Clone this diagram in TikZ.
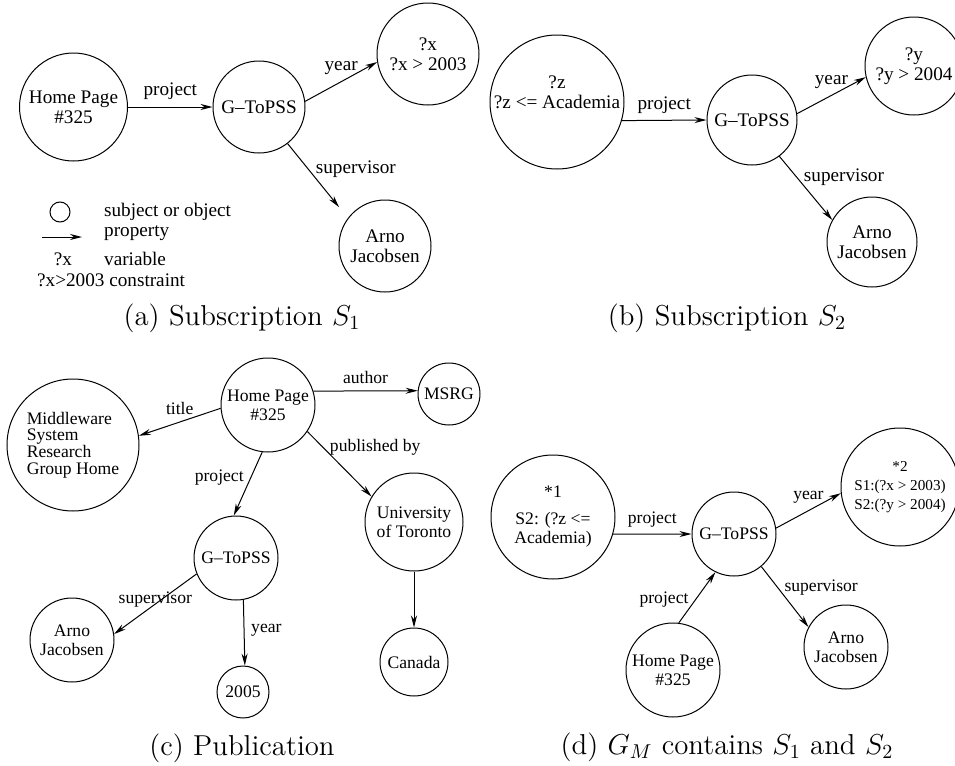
\documentclass[tikz,border=0pt]{standalone}
\usepackage{fontspec}
\newfontfamily\figfont{Liberation Serif}
\usetikzlibrary{arrows.meta}
\tikzset{>={Stealth[length=6pt,width=3pt]}}
\tikzset{
    thing/.style={circle, draw, inner sep=0pt, align=center, minimum size=#1},
    bigtext/.style={font=\figfont\fontsize{9.6}{10}\selectfont},
    smalltext/.style={font=\figfont\fontsize{8.8}{9.5}\selectfont},
    subcap/.style={font=\fontsize{14.4}{17}\selectfont}
}

\begin{document}
\begin{tikzpicture}[x=0.5pt,y=-0.5pt,line width=0.5pt]
    \useasboundingbox (0,0) rectangle (955,766);
    \begin{scope}[bigtext]
        \node[thing=54pt] (hpA) at (73.5,107) {Home Page\\\#325};
        \node[thing=46pt] (gA) at (259,107) {G\textendash ToPSS};
        \node[thing=51pt] (xA) at (428,54) {?x\\?x > 2003};
        \node[thing=46pt] (ajA) at (385,246) {Arno\\Jacobsen};
        \draw[->] (hpA) -- node[above] {project} (gA);
        \draw[->] (gA.7) -- node[above] {year} (xA.189);
        \draw[->,shorten >=7pt] (gA.-52) -- node[pos=0.35,right] {supervisor} (ajA.143);
        \node[thing=10pt] (kobj) at (60,212) {};
        \node[anchor=west] (tobj) at (97,212) {subject or object};
        \coordinate (kp1) at (42,237);
        \coordinate (kp2) at (82,237);
        \draw[->] (kp1) -- (kp2);
        \node[anchor=west] (tprop) at (97,233) {property};
        \node (kvar) at (63,259) {?x};
        \node[anchor=west] (tvar) at (97,259) {variable};
        \node[anchor=west] (kcon) at (30,280) {?x>2003 constraint};
    \end{scope}
    \begin{scope}[bigtext]
        \node[thing=67pt, label={[align=center,yshift=5pt]center:?z\\?z <= Academia}] (zB) at (557,102) {};
        \node[thing=45pt] (gB) at (752,120) {G\textendash ToPSS};
        \node[thing=49pt] (yB) at (914,66) {?y\\?y > 2004};
        \node[thing=45pt] (ajB) at (872,242) {Arno\\Jacobsen};
        \draw[->] (zB.-16) -- node[above] {project} (gB.west);
        \draw[->] (gB.8) -- node[above] {year} (yB.193);
        \draw[->] (gB.-53) -- node[pos=0.33,right] {supervisor} (ajB.151);
    \end{scope}
    \begin{scope}[smalltext]
        \node[thing=47pt] (hpC) at (268,405) {Home Page\\\#325};
        \node[thing=31pt] (msrg) at (449,394) {MSRG};
        \node[thing=66pt, align=left, font=\figfont\fontsize{8.8}{8.3}\selectfont] (mw) at (73,445)
            {Middleware\\System\\Research\\Group Home};
        \node[thing=49pt] (ut) at (414,522) {University\\of Toronto};
        \node[thing=42pt] (gC) at (236,558) {G\textendash ToPSS};
        \node[thing=42pt] (ajC) at (72,640) {Arno\\Jacobsen};
        \node[thing=26pt] (y05) at (243,692) {2005};
        \node[thing=34pt] (ca) at (414,662) {Canada};
        \draw[->] (hpC.17) -- node[above] {author} (msrg.174);
        \draw[->] (hpC.184) -- node[above] {title} (mw.8);
        \draw[->] (hpC.263) -- node[pos=0.4,left] {project} (gC.93);
        \draw[->] (hpC.-34) -- node[pos=0.24,right] {published by} (ut.149);
        \draw[->] (ut) -- (ca);
        \draw[->] (gC.202) -- node[midway,yshift=2pt] {supervisor} (ajC.8);
        \draw[->] (gC.280) -- node[pos=0.47,right] {year} (y05.86);
    \end{scope}
    \begin{scope}[smalltext]
        \node[thing=62pt] (s1D) at (553,517) {*1\\[4pt]S2: (?z <=\\Academia)};
        \node[thing=42pt] (gD) at (734,534) {G\textendash ToPSS};
        \node[thing=59pt, font=\figfont\fontsize{7.6}{9.5}\selectfont] (s2D) at (900,487)
            {*2\\S1:(?x > 2003)\\S2:(?y > 2004)};
        \node[thing=47pt] (hpD) at (673,670) {Home Page\\\#325};
        \node[thing=42pt] (ajD) at (846,647) {Arno\\Jacobsen};
        \draw[->] (s1D.-16) -- node[above] {project} (gD.west);
        \draw[->] (gD.8) -- node[above] {year} (s2D.186);
        \draw[->] (gD.-50) -- node[pos=0.34,right] {supervisor} (ajD.152);
        \draw[->] (hpD.83) -- node[pos=0.46,left] {project} (gD.244);
    \end{scope}
    \node[subcap] (capA) at (242,318) {(a) Subscription $S_1$};
    \node[subcap] (capB) at (727,318) {(b) Subscription $S_2$};
    \node[subcap] (capC) at (242,748) {(c) Publication};
    \node[subcap] (capD) at (727,747) {(d) $G_M$ contains $S_1$ and $S_2$};
\end{tikzpicture}
\end{document}
